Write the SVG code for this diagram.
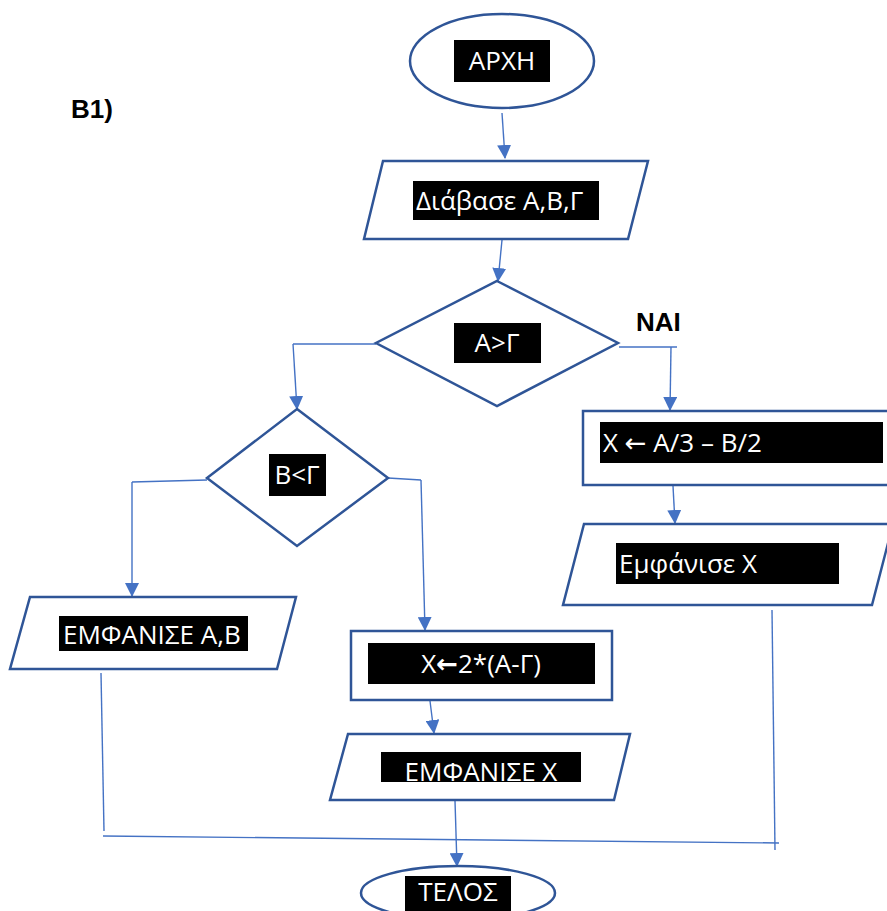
<svg xmlns="http://www.w3.org/2000/svg" width="887" height="911" viewBox="0 0 887 911">
<style>
.shape{fill:#fff;stroke:#2F5597;stroke-width:2.5}
.box{fill:#000}
.t{font-family:"Open Sans","Noto Sans",sans-serif;font-size:26px;fill:#fff}
.ar{font-family:"DejaVu Sans",sans-serif}
.c{fill:none;stroke:#4472C4;stroke-width:1.4}
.b{font-family:"Liberation Sans",Arial,sans-serif;font-weight:bold;font-size:26px;fill:#000}
</style>
<defs>
<marker id="ah" markerUnits="userSpaceOnUse" markerWidth="14" markerHeight="14" viewBox="0 0 14 14" refX="13" refY="7" orient="auto">
<path d="M0,0 L14,7 L0,14 Z" fill="#4472C4"/>
</marker>
</defs>
<rect width="887" height="911" fill="#fff"/>
<text class="b" x="71" y="118">Β1)</text>
<text class="b" x="636" y="331">ΝΑΙ</text>

<g id="connectors">
<line class="c" x1="502" y1="113" x2="505" y2="158" marker-end="url(#ah)"/>
<line class="c" x1="502" y1="240" x2="498" y2="281" marker-end="url(#ah)"/>
<polyline class="c" points="376,344 293,344"/>
<line class="c" x1="293" y1="344" x2="297" y2="409" marker-end="url(#ah)"/>
<polyline class="c" points="619,347 677,347"/>
<line class="c" x1="671" y1="347" x2="670" y2="410" marker-end="url(#ah)"/>
<polyline class="c" points="388,478 421,480"/>
<line class="c" x1="421" y1="480" x2="425" y2="630" marker-end="url(#ah)"/>
<polyline class="c" points="207,480 132,482"/>
<line class="c" x1="132" y1="482" x2="132" y2="596" marker-end="url(#ah)"/>
<line class="c" x1="673" y1="486" x2="675" y2="523" marker-end="url(#ah)"/>
<line class="c" x1="430" y1="701" x2="434" y2="733" marker-end="url(#ah)"/>
<line class="c" x1="101" y1="673" x2="104" y2="831"/>
<line class="c" x1="772" y1="610" x2="775" y2="850"/>
<line class="c" x1="103" y1="836" x2="779" y2="843"/>
<line class="c" x1="455" y1="801" x2="457" y2="866" marker-end="url(#ah)"/>
</g>

<g id="start">
<ellipse class="shape" cx="502" cy="61" rx="92" ry="47"/>
<rect class="box" x="454" y="40" width="96" height="42"/>
<text class="t" x="502" y="70" text-anchor="middle">ΑΡΧΗ</text>
</g>

<g id="read">
<polygon class="shape" points="383,161 648,161 628,239 364,239"/>
<rect class="box" x="413" y="181" width="186" height="39"/>
<text class="t" x="416" y="210">Διάβασε Α,Β,Γ</text>
</g>

<g id="cond1">
<polygon class="shape" points="497,281 618,343 497,406 376,343"/>
<rect class="box" x="454" y="323" width="87" height="40"/>
<text class="t" x="497" y="352" text-anchor="middle">Α&gt;Γ</text>
</g>

<g id="cond2">
<polygon class="shape" points="297,409 388,478 297,546 207,478"/>
<rect class="box" x="269" y="454" width="57" height="42"/>
<text class="t" x="297" y="484" text-anchor="middle">Β&lt;Γ</text>
</g>

<g id="assign1">
<rect class="shape" x="583" y="411" width="310" height="74"/>
<rect class="box" x="600" y="422" width="283" height="41"/>
<text class="t" x="603" y="452">Χ <tspan class="ar">←</tspan> Α/3 – Β/2</text>
</g>

<g id="print1">
<polygon class="shape" points="584,524 893,524 872,605 563,605"/>
<rect class="box" x="616" y="543" width="223" height="41"/>
<text class="t" x="619" y="573">Εμφάνισε Χ</text>
</g>

<g id="printAB">
<polygon class="shape" points="30,597 296,597 277,669 10,669"/>
<rect class="box" x="59" y="616" width="189" height="35"/>
<text class="t" x="63" y="644">ΕΜΦΑΝΙΣΕ Α,Β</text>
</g>

<g id="assign2">
<rect class="shape" x="351" y="631" width="261" height="69"/>
<rect class="box" x="368" y="643" width="227" height="41"/>
<text class="t" x="481" y="673" text-anchor="middle">Χ<tspan class="ar" font-weight="bold">←</tspan>2*(Α-Γ)</text>
</g>

<g id="print2">
<polygon class="shape" points="348,734 630,734 614,800 330,800"/>
<rect class="box" x="381" y="752" width="200" height="30"/>
<text class="t" x="481" y="781" text-anchor="middle">ΕΜΦΑΝΙΣΕ Χ</text>
</g>

<g id="end">
<ellipse class="shape" cx="458" cy="893" rx="97" ry="27"/>
<rect class="box" x="405" y="876" width="106" height="35"/>
<text class="t" x="458" y="901" text-anchor="middle" font-size="23">ΤΕΛΟΣ</text>
</g>
</svg>
